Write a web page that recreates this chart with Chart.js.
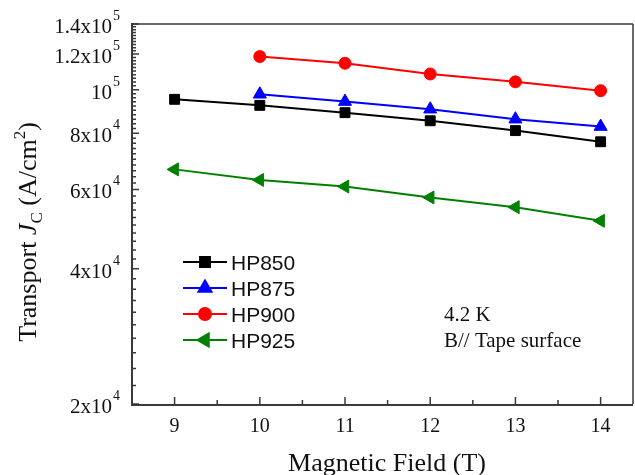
<!DOCTYPE html>
<html>
<head>
<meta charset="utf-8">
<title>Transport Jc vs field</title>
<script src="https://cdn.jsdelivr.net/npm/chart.js@4/dist/chart.umd.min.js"></script>
<style>
  html, body { margin: 0; padding: 0; background: #fff; }
  #wrap { width: 635px; height: 475px; }
</style>
</head>
<body>
<div id="wrap"><canvas id="jcChart" width="635" height="475"></canvas></div>
<script>
// field values (T) and Jc (A/cm^2) per sample; null = not measured
const fields = [9, 10, 11, 12, 13, 14];
const hp850 = [95200, 92300, 88900, 85300, 81100, 76600];
const hp875 = [null, 97700, 94100, 90500, 86000, 82800];
const hp900 = [null, 118500, 114500, 108400, 104100, 99500];
const hp925 = [66500, 63000, 60900, 57600, 54800, 51100];

const xTicks = [9, 10, 11, 12, 13, 14];
const yTicks = [20000, 40000, 60000, 80000, 100000, 120000, 140000];
const yTickLabels = ['2x10^4', '4x10^4', '6x10^4', '8x10^4', '10^5', '1.2x10^5', '1.4x10^5'];

const SERIF = '"Liberation Serif", "Times New Roman", serif';
const SANS = '"Liberation Sans", Arial, sans-serif';
const AXIS = '#3a3a3a';

function toPoints(vals) {
    const pts = [];
    vals.forEach((v, i) => { if (v !== null) pts.push({ x: fields[i], y: v }); });
    return pts;
}

function series(label, vals, color, style, radius, rotation) {
    return {
        label: label,
        data: toPoints(vals),
        borderColor: color,
        backgroundColor: color,
        borderWidth: 2,
        pointStyle: style,
        pointRadius: radius,
        pointHoverRadius: radius,
        pointRotation: rotation || 0,
        pointBackgroundColor: color,
        pointBorderColor: color,
        pointBorderWidth: 1,
        tension: 0
    };
}

// label text with a trailing superscript, right aligned at rx
function drawPow(ctx, text, rx, y) {
    const parts = text.split('^');
    ctx.font = '21px ' + SERIF;
    const wBase = ctx.measureText(parts[0]).width;
    ctx.font = '14px ' + SERIF;
    const wSup = ctx.measureText(parts[1]).width;
    const x0 = rx - wBase - wSup - 1;
    ctx.textAlign = 'left';
    ctx.textBaseline = 'alphabetic';
    ctx.font = '21px ' + SERIF;
    ctx.fillText(parts[0], x0, y + 9);
    ctx.font = '14px ' + SERIF;
    ctx.fillText(parts[1], x0 + wBase + 1, y - 4);
}

const framePlugin = {
    id: 'framePlugin',
    afterDraw(chart) {
        const ctx = chart.ctx;
        const a = chart.chartArea;
        const xs = chart.scales.x;
        const ys = chart.scales.y;
        ctx.save();
        ctx.strokeStyle = AXIS;
        ctx.fillStyle = '#111';
        ctx.lineCap = 'butt';

        // box
        ctx.lineWidth = 1.5;
        ctx.beginPath();
        ctx.moveTo(a.left, a.top); ctx.lineTo(a.right, a.top);
        ctx.moveTo(a.right, a.top); ctx.lineTo(a.right, a.bottom);
        ctx.stroke();
        ctx.lineWidth = 2;
        ctx.beginPath();
        ctx.moveTo(a.left, a.top - 1); ctx.lineTo(a.left, a.bottom + 1);
        ctx.lineTo(a.right, a.bottom + 1);
        ctx.stroke();

        // x ticks, pointing inward
        ctx.lineWidth = 1.5;
        ctx.beginPath();
        xTicks.forEach(v => {
            const px = xs.getPixelForValue(v);
            ctx.moveTo(px, a.bottom); ctx.lineTo(px, a.bottom - 7);
            const half = v + 0.5;
            if (half < xs.max) {
                const hx = xs.getPixelForValue(half);
                ctx.moveTo(hx, a.bottom); ctx.lineTo(hx, a.bottom - 4);
            }
        });
        // y ticks: minor every 2e3, major at the labelled values
        for (let v = ys.min; v <= ys.max + 1; v += 2000) {
            const py = ys.getPixelForValue(v);
            const major = yTicks.indexOf(Math.round(v)) >= 0;
            ctx.moveTo(a.left, py); ctx.lineTo(a.left + (major ? 7 : 4), py);
        }
        ctx.stroke();

        // x tick labels
        ctx.font = '20px ' + SERIF;
        ctx.textAlign = 'center';
        ctx.textBaseline = 'alphabetic';
        xTicks.forEach(v => {
            ctx.fillText(String(v), xs.getPixelForValue(v), a.bottom + 28);
        });

        // y tick labels
        yTicks.forEach((v, i) => {
            drawPow(ctx, yTickLabels[i], a.left - 12, ys.getPixelForValue(v));
        });

        // x title
        ctx.font = '26px ' + SERIF;
        ctx.textAlign = 'center';
        ctx.fillText('Magnetic Field (T)', 387, 471);

        // y title: Transport J_C (A/cm^2)
        const pieces = [
            { t: 'Transport ', f: '26px ' + SERIF, dy: 0 },
            { t: 'J', f: 'italic 26px ' + SERIF, dy: 0 },
            { t: 'C', f: '17px ' + SERIF, dy: 6 },
            { t: ' (A/cm', f: '26px ' + SERIF, dy: 0 },
            { t: '2', f: '17px ' + SERIF, dy: -11 },
            { t: ')', f: '26px ' + SERIF, dy: 0 }
        ];
        let total = 0;
        pieces.forEach(p => { ctx.font = p.f; p.w = ctx.measureText(p.t).width; total += p.w; });
        ctx.save();
        ctx.translate(36, 232);
        ctx.rotate(-Math.PI / 2);
        ctx.textAlign = 'left';
        let cx = -total / 2;
        pieces.forEach(p => {
            ctx.font = p.f;
            ctx.fillText(p.t, cx, p.dy);
            cx += p.w;
        });
        ctx.restore();

        // legend
        const rows = [262, 288, 314, 340];
        chart.data.datasets.forEach((ds, i) => {
            const y = rows[i];
            ctx.strokeStyle = ds.borderColor;
            ctx.lineWidth = 2;
            ctx.beginPath();
            ctx.moveTo(183, y); ctx.lineTo(227, y);
            ctx.stroke();
            ctx.fillStyle = ds.borderColor;
            Chart.helpers.drawPoint(ctx, {
                pointStyle: ds.pointStyle,
                radius: ds.pointRadius,
                rotation: ds.pointRotation,
                borderWidth: 1
            }, 205, y);
            ctx.fillStyle = '#111';
            ctx.font = '21px ' + SANS;
            ctx.textAlign = 'left';
            ctx.fillText(ds.label, 231, y + 8);
        });

        // conditions note
        ctx.fillStyle = '#111';
        ctx.font = '21px ' + SERIF;
        ctx.textAlign = 'left';
        ctx.fillText('4.2 K', 444, 321);
        ctx.fillText('B// Tape surface', 444, 347);

        ctx.restore();
    }
};

new Chart(document.getElementById('jcChart'), {
    type: 'line',
    data: {
        datasets: [
            series('HP850', hp850, '#000000', 'rect', 7),
            series('HP875', hp875, '#0000ff', 'triangle', 7.5),
            series('HP900', hp900, '#ff0000', 'circle', 6),
            series('HP925', hp925, '#008000', 'triangle', 7.5, -90)
        ]
    },
    options: {
        responsive: false,
        animation: false,
        events: [],
        layout: {
            autoPadding: false,
            padding: { left: 132, top: 24, right: 2, bottom: 71 }
        },
        plugins: {
            legend: { display: false },
            tooltip: { enabled: false }
        },
        scales: {
            x: { type: 'linear', min: 8.5, max: 14.38, display: false },
            y: { type: 'logarithmic', min: 20000, max: 140000, display: false }
        }
    },
    plugins: [framePlugin]
});
</script>
</body>
</html>
